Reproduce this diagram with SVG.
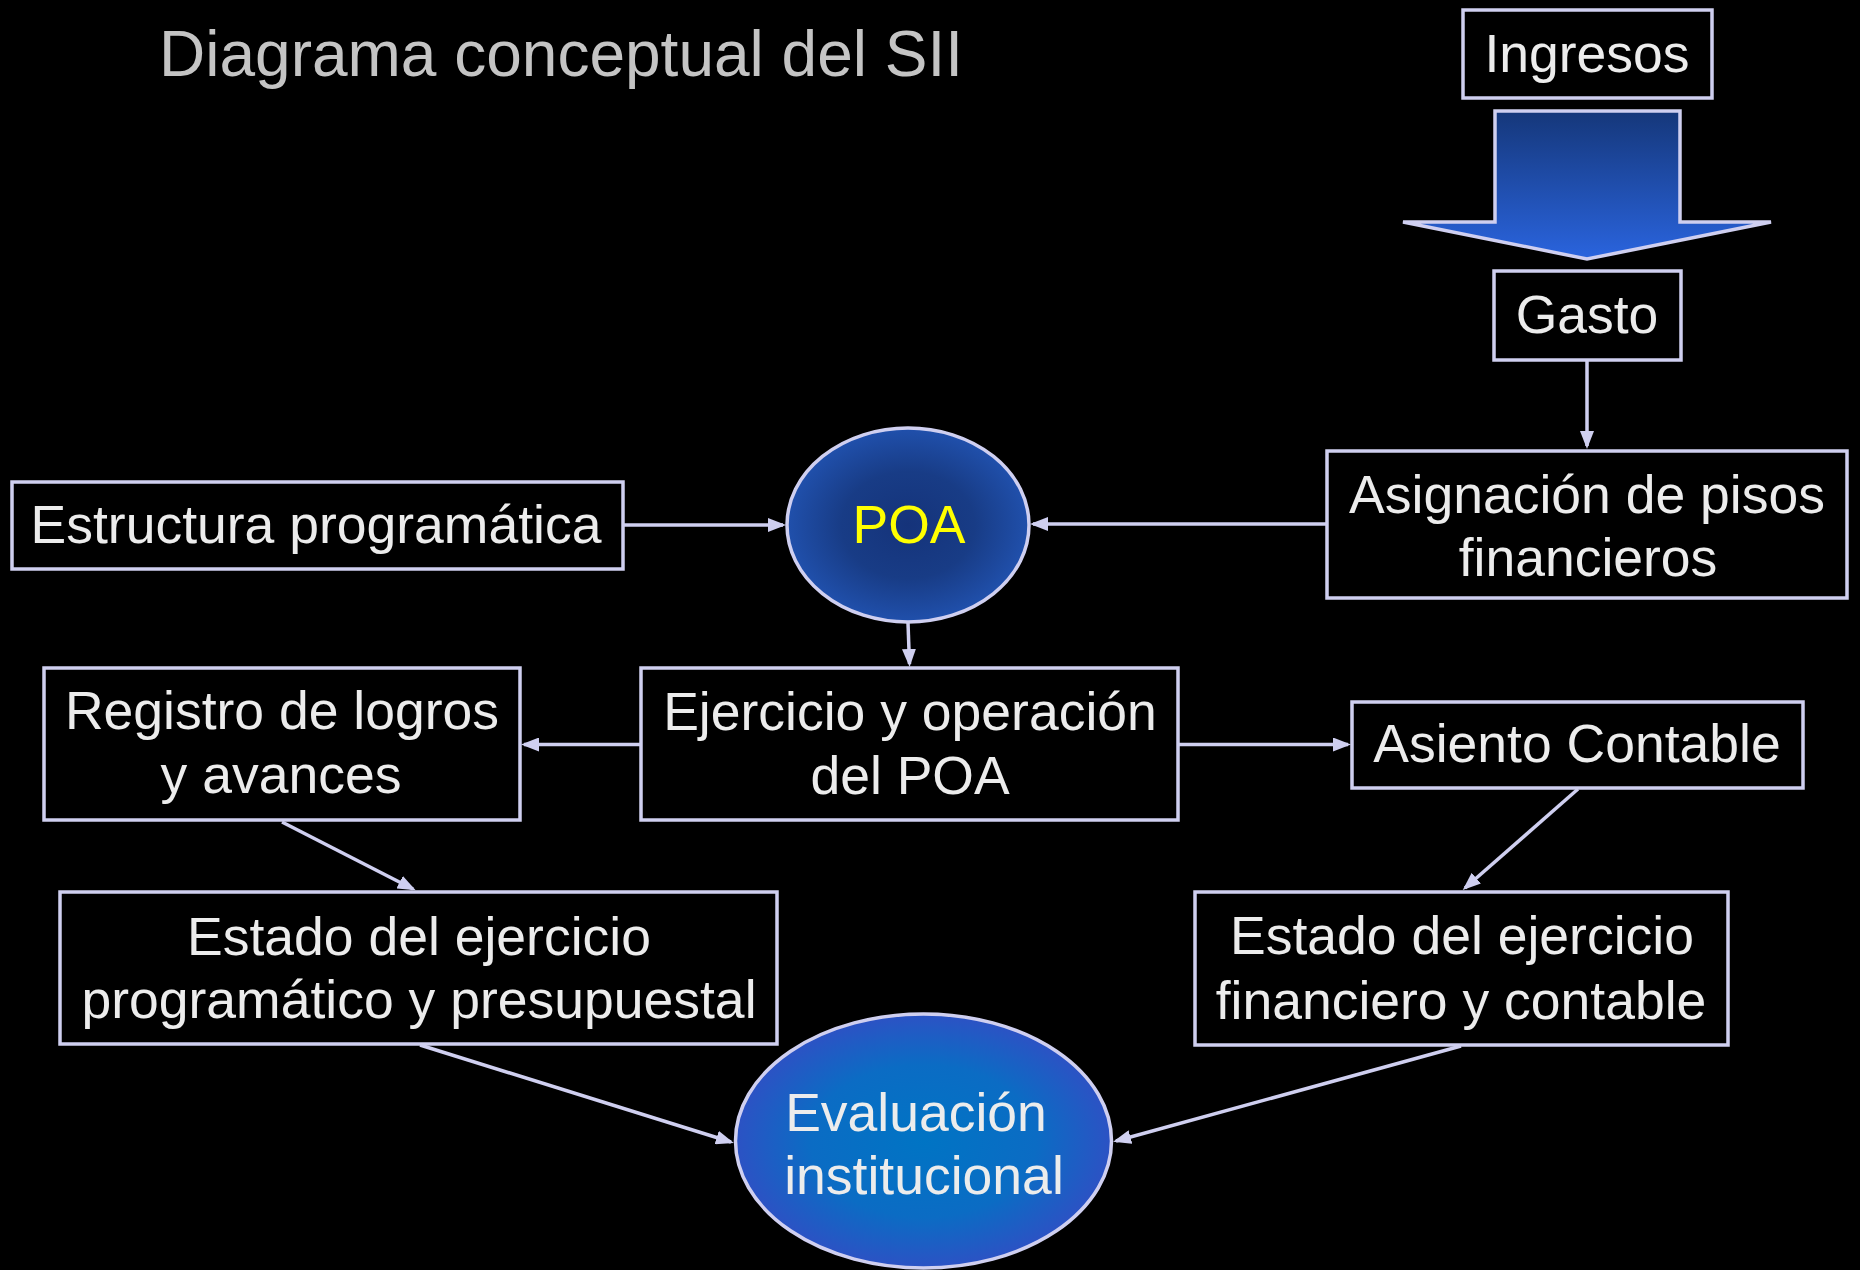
<svg xmlns="http://www.w3.org/2000/svg" width="1860" height="1270" viewBox="0 0 1860 1270">
<style>
.box{fill:#000;stroke:#cfcff0;stroke-width:3.5}
.t{font-family:"Liberation Sans",Arial,sans-serif;font-size:53.5px;fill:#ececec;text-anchor:middle}
.c{fill:none;stroke:#cfcff0;stroke-width:3.5;marker-end:url(#ah)}
</style>
<defs>
<marker id="ah" viewBox="0 0 18 14" refX="15" refY="7" markerWidth="18" markerHeight="14" markerUnits="userSpaceOnUse" orient="auto">
<path d="M0,0 L18,7 L0,14 z" fill="#cfcff0"/>
</marker>
<linearGradient id="gArrow" x1="0" y1="0" x2="0" y2="1">
<stop offset="0" stop-color="#15377a"/>
<stop offset="1" stop-color="#2a64de"/>
</linearGradient>
<radialGradient id="gPoa" cx="0.5" cy="0.5" r="0.5">
<stop offset="0" stop-color="#15337a"/>
<stop offset="0.55" stop-color="#183c86"/>
<stop offset="1" stop-color="#2050ac"/>
</radialGradient>
<radialGradient id="gEval" cx="0.5" cy="0.5" r="0.5">
<stop offset="0" stop-color="#0074c4"/>
<stop offset="0.6" stop-color="#0b6cc4"/>
<stop offset="1" stop-color="#2c52c4"/>
</radialGradient>
</defs>
<rect width="1860" height="1270" fill="#000"/>
<text x="159" y="76" style="font-family:'Liberation Sans',Arial,sans-serif;font-size:64px;fill:#c4c4c4">Diagrama conceptual del SII</text>

<g id="connectors">
<polygon id="flecha-bloque" points="1495,111 1680,111 1680,222 1771,222 1587,259 1403,222 1495,222" fill="url(#gArrow)" stroke="#cfcff0" stroke-width="3.5" stroke-linejoin="miter"/>
<line class="c" x1="1587" y1="360" x2="1587" y2="446"/>
<line class="c" x1="623" y1="525" x2="783" y2="525"/>
<line class="c" x1="1327" y1="524" x2="1033" y2="524"/>
<line class="c" x1="908" y1="623" x2="909.5" y2="664"/>
<line class="c" x1="641" y1="744.5" x2="524" y2="744.5"/>
<line class="c" x1="1178" y1="744.5" x2="1348" y2="744.5"/>
<line class="c" x1="282" y1="822" x2="413" y2="889"/>
<line class="c" x1="1578" y1="789" x2="1465" y2="888"/>
<line class="c" x1="420" y1="1045" x2="731" y2="1142"/>
<line class="c" x1="1461" y1="1046" x2="1116" y2="1141"/>
</g>

<g id="ingresos">
<rect class="box" x="1463" y="10" width="249" height="88"/>
<text class="t" x="1587" y="72">Ingresos</text>
</g>
<g id="gasto">
<rect class="box" x="1494" y="271" width="187" height="89"/>
<text class="t" x="1587" y="333">Gasto</text>
</g>
<g id="asignacion">
<rect class="box" x="1327" y="451" width="520" height="147"/>
<text class="t" x="1587" y="513">Asignación de pisos</text>
<text class="t" x="1588" y="576">financieros</text>
</g>
<g id="estructura">
<rect class="box" x="12" y="482" width="611" height="87"/>
<text class="t" x="316" y="543">Estructura programática</text>
</g>
<g id="poa">
<ellipse cx="908" cy="525" rx="121" ry="97" fill="url(#gPoa)" stroke="#cfcff0" stroke-width="3.5"/>
<text class="t" x="909" y="543" style="fill:#ffff00">POA</text>
</g>
<g id="ejercicio">
<rect class="box" x="641" y="668" width="537" height="152"/>
<text class="t" x="910" y="730">Ejercicio y operación</text>
<text class="t" x="910" y="794">del POA</text>
</g>
<g id="registro">
<rect class="box" x="44" y="668" width="476" height="152"/>
<text class="t" x="282" y="729">Registro de logros</text>
<text class="t" x="281" y="793">y avances</text>
</g>
<g id="asiento">
<rect class="box" x="1352" y="702" width="451" height="86"/>
<text class="t" x="1577" y="762">Asiento Contable</text>
</g>
<g id="estado-programatico">
<rect class="box" x="60" y="892" width="717" height="152"/>
<text class="t" x="419" y="955">Estado del ejercicio</text>
<text class="t" x="419" y="1018">programático y presupuestal</text>
</g>
<g id="estado-financiero">
<rect class="box" x="1195" y="892" width="533" height="153"/>
<text class="t" x="1462" y="954">Estado del ejercicio</text>
<text class="t" x="1461" y="1019">financiero y contable</text>
</g>
<g id="evaluacion">
<ellipse cx="923.5" cy="1141" rx="188" ry="127" fill="url(#gEval)" stroke="#cfcff0" stroke-width="3.5"/>
<text class="t" x="916" y="1131">Evaluación</text>
<text class="t" x="924" y="1194">institucional</text>
</g>
</svg>
